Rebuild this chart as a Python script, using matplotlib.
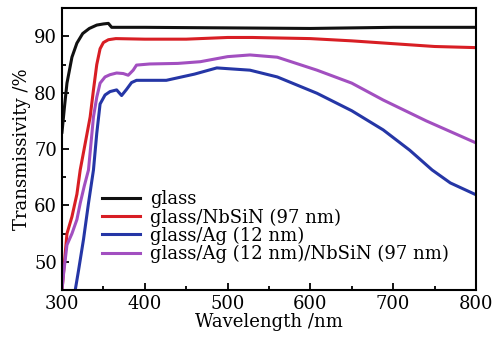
import matplotlib
matplotlib.use("Agg")
import matplotlib.pyplot as plt
from matplotlib.ticker import MultipleLocator

# wavelength (nm) / transmissivity (%)
glass_wl = [300, 303, 306, 312, 318, 325, 333, 342, 350, 356, 360, 400, 500, 600, 700, 800]
glass_t = [73.0, 77.5, 81.7, 86.3, 88.8, 90.5, 91.4, 92.0, 92.2, 92.3, 91.6, 91.6, 91.5, 91.4, 91.6, 91.6]

nbsin_wl = [300, 303, 306, 312, 318, 322, 328, 334, 338, 342, 346, 350, 356, 365, 400, 450, 500, 530, 600, 650, 700, 750, 800]
nbsin_t = [45.0, 50.0, 55.0, 58.0, 62.0, 66.3, 71.0, 75.7, 80.5, 85.0, 87.8, 88.9, 89.4, 89.6, 89.5, 89.5, 89.8, 89.8, 89.6, 89.2, 88.7, 88.2, 88.0]

ag_wl = [316, 320, 326, 332, 338, 342, 346, 352, 358, 366, 372, 378, 384, 390, 426, 460, 487, 527, 560, 608, 650, 688, 720, 747, 769, 800]
ag_t = [45.0, 48.5, 54.0, 60.4, 66.3, 72.8, 78.0, 79.6, 80.2, 80.5, 79.5, 80.6, 81.8, 82.2, 82.2, 83.3, 84.4, 84.0, 82.8, 79.9, 76.8, 73.4, 69.8, 66.3, 64.0, 61.9]

agnb_wl = [300, 302, 306, 312, 318, 322, 327, 332, 338, 342, 346, 352, 358, 366, 374, 380, 386, 390, 406, 440, 467, 500, 527, 560, 608, 650, 688, 740, 800]
agnb_t = [45.0, 48.0, 53.0, 55.0, 57.5, 60.4, 63.5, 66.3, 75.7, 79.2, 81.7, 82.8, 83.2, 83.5, 83.4, 83.1, 84.0, 84.9, 85.1, 85.2, 85.5, 86.4, 86.7, 86.3, 84.0, 81.7, 78.7, 75.0, 71.1]

labels = ["glass", "glass/NbSiN (97 nm)", "glass/Ag (12 nm)", "glass/Ag (12 nm)/NbSiN (97 nm)"]
colors = ["#111111", "#d81e24", "#2536a6", "#a24fc0"]

plt.rcParams["font.family"] = ["DejaVu Serif"]

fig = plt.figure(figsize=(4.94, 3.40), dpi=100)
ax = fig.add_axes([0.1255, 0.147, 0.838, 0.829])

series = [(glass_wl, glass_t), (nbsin_wl, nbsin_t), (ag_wl, ag_t), (agnb_wl, agnb_t)]
for (wl, t), lab, c in zip(series, labels, colors):
    ax.plot(wl, t, color=c, lw=2.2, label=lab, solid_joinstyle="round")

ax.set_xlim(300, 800)
ax.set_ylim(45, 95)
ax.xaxis.set_major_locator(MultipleLocator(100))
ax.xaxis.set_minor_locator(MultipleLocator(50))
ax.yaxis.set_major_locator(MultipleLocator(10))
ax.yaxis.set_minor_locator(MultipleLocator(5))
ax.tick_params(which="both", direction="in", labelsize=13, width=1.3)
ax.tick_params(which="major", length=5)
ax.tick_params(which="minor", length=3)
for s in ax.spines.values():
    s.set_linewidth(1.5)

ax.set_xlabel("Wavelength /nm", fontsize=13, labelpad=0)
ax.set_ylabel("Transmissivity /%", fontsize=13, labelpad=2)

ax.legend(loc="lower left", bbox_to_anchor=(0.08, 0.07), frameon=False, fontsize=13,
          handlelength=2.1, handletextpad=0.55, labelspacing=0.0, borderaxespad=0)

fig.savefig("out.png", dpi=100)
